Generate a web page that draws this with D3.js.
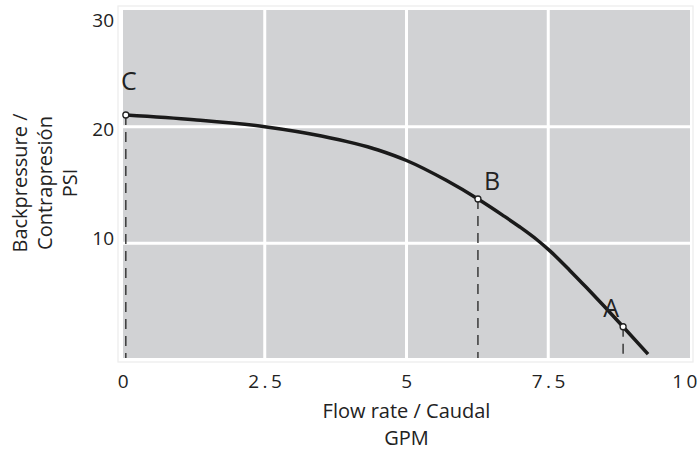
<!DOCTYPE html>
<html>
<head>
<meta charset="utf-8">
<script src="https://cdn.jsdelivr.net/npm/d3@7"></script>
<style>
  body { margin: 0; background: #fff; }
  text { font-family: "Open Sans", sans-serif; fill: #222; }
</style>
</head>
<body>
<svg id="chart" width="700" height="452"></svg>
<script>
// pump curve
const flow = [0.05, 1.25, 2.5, 3.5, 4.5, 5.0, 5.7, 6.26, 6.7, 7.0, 7.29, 7.53, 7.88, 8.17, 8.47, 8.82, 9.26];
const pressure = [21.0, 20.6, 20.0, 19.2, 18.0, 17.1, 15.4, 13.8, 12.4, 11.4, 10.35, 9.35, 7.68, 6.23, 4.69, 2.85, 0.5];

const markNames = ['C', 'B', 'A'];
const markFlow = [0.05, 6.26, 8.82];
const markPressure = [21.0, 13.8, 2.85];

const xTicks = [0, 2.5, 5, 7.5, 10];
const yTicks = [10, 20, 30];

const width = 700, height = 452;
const marginLeft = 123, marginRight = 10, marginTop = 10, marginBottom = 92;
const panelBottom = 358;

const svg = d3.select('#chart');

const x = d3.scaleLinear().domain([0, 10]).range([marginLeft, width - marginRight]);
const y = d3.scaleLinear().domain([0, 30]).range([height - marginBottom, marginTop]);
// tick labels in the original sit a little off their grid lines
const yLabel = d3.scaleLinear().domain([10, 30]).range([238, 20]);

// faint outer frame
svg.append('rect')
    .attr('x', marginLeft - 5).attr('y', marginTop - 4)
    .attr('width', width - marginRight - marginLeft + 8)
    .attr('height', panelBottom - marginTop + 8)
    .style('fill', 'none')
    .style('stroke', '#ececec')
    .style('stroke-width', 1.2);

// panel
svg.append('rect')
    .attr('x', x(0)).attr('y', y(30))
    .attr('width', x(10) - x(0))
    .attr('height', panelBottom - y(30))
    .style('fill', '#d1d2d4');

// grid lines
const grid = svg.append('g').attr('class', 'grid');
grid.selectAll('line.gx')
    .data(xTicks.filter(d => d > 0 && d < 10))
    .enter().append('line')
    .attr('class', 'gx')
    .attr('x1', d => x(d)).attr('x2', d => x(d))
    .attr('y1', y(30)).attr('y2', panelBottom)
    .style('stroke', '#fff').style('stroke-width', 3);
grid.selectAll('line.gy')
    .data(yTicks.filter(d => d < 30))
    .enter().append('line')
    .attr('class', 'gy')
    .attr('x1', x(0)).attr('x2', x(10))
    .attr('y1', d => y(d)).attr('y2', d => y(d))
    .style('stroke', '#fff').style('stroke-width', 3);

// axes (labels only)
const xAxis = d3.axisBottom(x).tickValues(xTicks).tickSize(0).tickPadding(17)
    .tickFormat(d => String(d));
svg.append('g')
    .attr('transform', `translate(0, ${panelBottom})`)
    .call(xAxis)
    .call(sel => sel.select('.domain').remove())
    .selectAll('text')
    .style('font-size', '19px')
    .style('letter-spacing', '3.5px')
    .attr('dx', d => d === 10 ? '-4px' : '1.5px')
    .style('font-family', '"Open Sans", sans-serif')
    .style('fill', '#222');

const yAxis = d3.axisLeft(yLabel).tickValues(yTicks).tickSize(0).tickPadding(9);
svg.append('g')
    .attr('transform', `translate(${x(0)}, 0)`)
    .call(yAxis)
    .call(sel => sel.select('.domain').remove())
    .selectAll('text')
    .attr('dy', '0.35em')
    .style('font-size', '19px')
    .style('font-family', '"Open Sans", sans-serif')
    .style('fill', '#222');

// axis titles
const xTitle = svg.append('text')
    .attr('text-anchor', 'middle')
    .attr('transform', `translate(${x(5)}, 0)`)
    .style('font-size', '20px');
xTitle.append('tspan').attr('x', 0).attr('y', 418).text('Flow rate / Caudal');
xTitle.append('tspan').attr('x', 0).attr('y', 445).text('GPM');

const yTitle = svg.append('text')
    .attr('text-anchor', 'middle')
    .attr('transform', 'translate(0, 183) rotate(-90)')
    .style('font-size', '20px');
['Backpressure /', 'Contrapresión', 'PSI'].forEach((t, i) => {
    yTitle.append('tspan').attr('x', 0).attr('y', 27 + i * 25).text(t);
});

// drop lines
const marks = markNames.map((name, i) => ({name, f: markFlow[i], p: markPressure[i]}));
svg.selectAll('line.drop')
    .data(marks)
    .enter().append('line')
    .attr('class', 'drop')
    .attr('x1', d => x(d.f)).attr('x2', d => x(d.f))
    .attr('y1', d => y(d.p)).attr('y2', panelBottom)
    .style('stroke', '#222')
    .style('stroke-width', 1.3)
    .style('stroke-dasharray', '10,7');

// curve
const pts = flow.map((f, i) => [f, pressure[i]]);
const line = d3.line()
    .x(d => x(d[0]))
    .y(d => y(d[1]))
    .curve(d3.curveMonotoneX);
svg.append('path')
    .datum(pts)
    .attr('d', line)
    .style('fill', 'none')
    .style('stroke', '#1a1a1a')
    .style('stroke-width', 3.5);

// operating points
svg.selectAll('circle.mark')
    .data(marks)
    .enter().append('circle')
    .attr('class', 'mark')
    .attr('cx', d => x(d.f)).attr('cy', d => y(d.p))
    .attr('r', 3)
    .style('fill', '#fff')
    .style('stroke', '#222')
    .style('stroke-width', 1.3);

const labelOffset = {C: [3, -25, 'middle'], B: [6, -9, 'start'], A: [-4, -10, 'end']};
svg.selectAll('text.mark')
    .data(marks)
    .enter().append('text')
    .attr('class', 'mark')
    .attr('x', d => x(d.f) + labelOffset[d.name][0])
    .attr('y', d => y(d.p) + labelOffset[d.name][1])
    .attr('text-anchor', d => labelOffset[d.name][2])
    .style('font-size', '25px')
    .text(d => d.name);
</script>
</body>
</html>
